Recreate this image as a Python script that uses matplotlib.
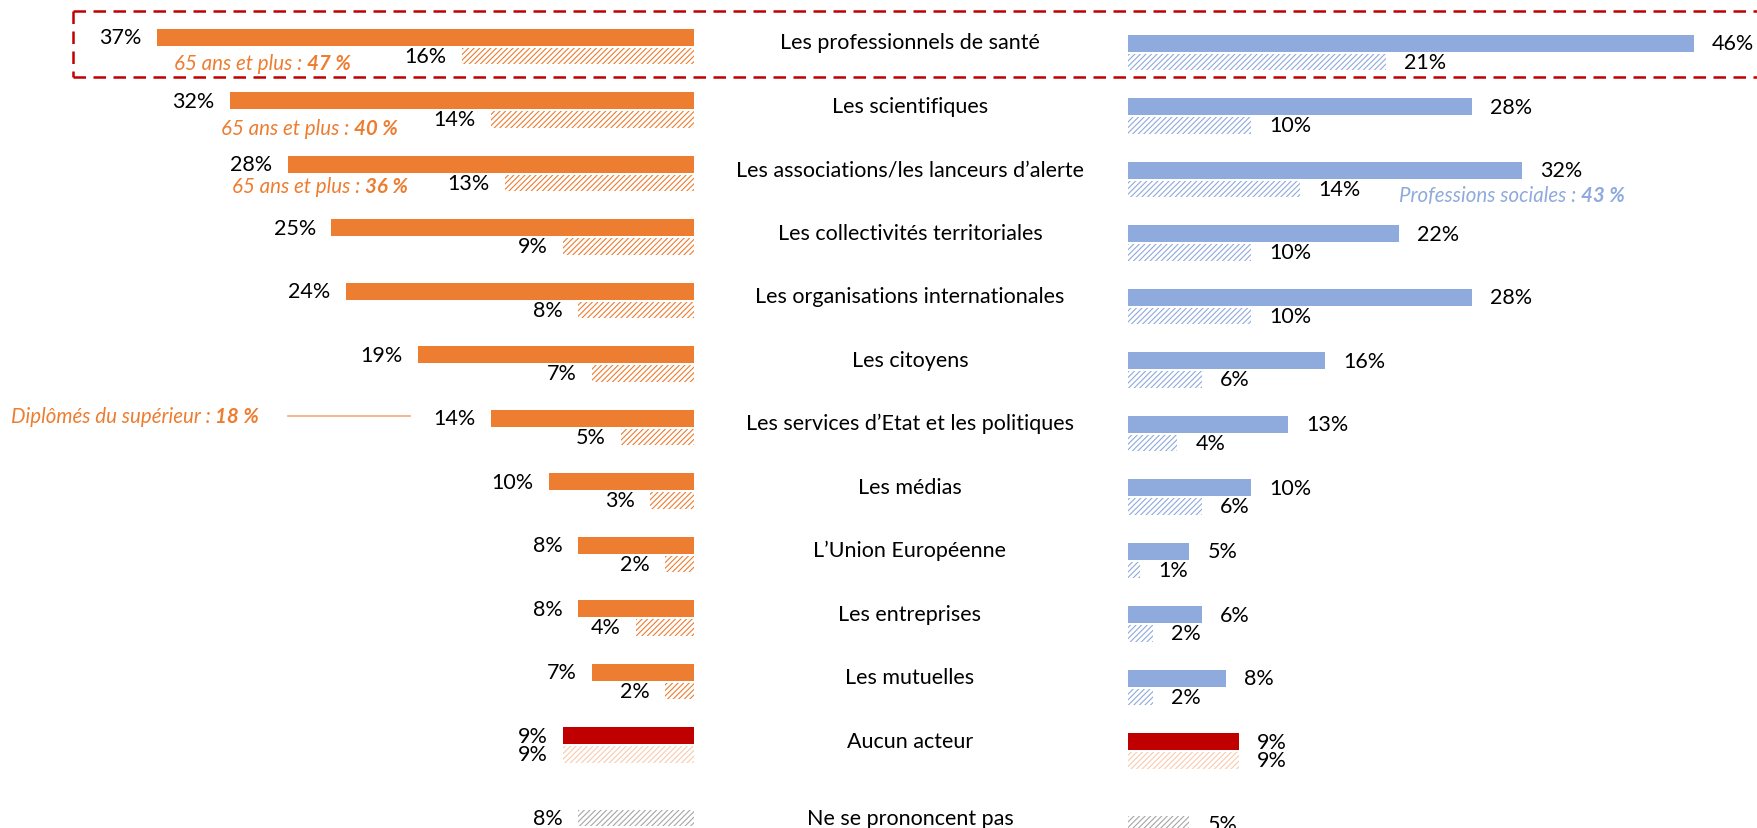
import numpy as np
import matplotlib
matplotlib.use('Agg')
import matplotlib.pyplot as plt
from matplotlib.lines import Line2D

plt.rcParams['font.family'] = ['Lato', 'DejaVu Sans']
plt.rcParams['hatch.linewidth'] = 0.8

# acteurs (one row each)
categories = ["Les professionnels de santé", "Les scientifiques",
              "Les associations/les lanceurs d\u2019alerte",
              "Les collectivités territoriales",
              "Les organisations internationales", "Les citoyens",
              "Les services d\u2019Etat et les politiques", "Les médias",
              "L\u2019Union Européenne", "Les entreprises", "Les mutuelles",
              "Aucun acteur", "Ne se prononcent pas"]

# left block (orange), right block (blue); None = no bar
left_solid = [37, 32, 28, 25, 24, 19, 14, 10, 8, 8, 7, 9, None]
left_hatch = [16, 14, 13, 9, 8, 7, 5, 3, 2, 4, 2, 9, 8]
right_solid = [46, 28, 32, 22, 28, 16, 13, 10, 5, 6, 8, 9, None]
right_hatch = [21, 10, 14, 10, 10, 6, 4, 6, 1, 2, 2, 9, 5]

ORANGE = '#ED7D31'
BLUE = '#8FAADC'
RED = '#C00000'
PALE = '#F8CBAD'
GREY = '#A6A6A6'

W, H = 1758, 829
fig = plt.figure(figsize=(W / 100, H / 100), dpi=100)

n = len(categories)
y = np.arange(n)
OFF_S, OFF_H, BH = -0.148, 0.146, 0.265
FS = 15.5


def colors_for(base):
    sc = [base] * n
    hc = [base] * n
    sc[11] = RED
    hc[11] = PALE
    hc[12] = GREY
    return sc, hc


def draw_side(ax, solid, hatch, base, side):
    sc, hc = colors_for(base)
    ys = [i for i in range(n) if solid[i] is not None]
    ax.barh([y[i] + OFF_S for i in ys], [solid[i] for i in ys], height=BH,
            color=[sc[i] for i in ys], linewidth=0)
    ax.barh(y + OFF_H, hatch, height=BH, color='white', edgecolor=hc,
            hatch='//////', linewidth=0)
    ha = 'right' if side == 'left' else 'left'
    dx = -11.3 if side == 'left' else 13
    for i in range(n):
        if solid[i] is not None:
            ax.annotate(f"{solid[i]}%", xy=(solid[i], y[i] + OFF_S),
                        xytext=(dx, 0), textcoords='offset points',
                        ha=ha, va='center', fontsize=FS, color='black')
        ax.annotate(f"{hatch[i]}%", xy=(hatch[i], y[i] + OFF_H),
                    xytext=(dx, 0), textcoords='offset points',
                    ha=ha, va='center', fontsize=FS, color='black')
    ax.axis('off')


# left block grows leftwards from x=694 px, 14.5 px per point
ax_l = fig.add_axes([0, 0, 694 / W, 1])
ax_l.set_xlim(694 / 14.5, 0)
ax_l.set_ylim((H - 47.7) / 63.5, -47.7 / 63.5)
draw_side(ax_l, left_solid, left_hatch, ORANGE, 'left')

# right block grows rightwards from x=1128 px, 12.3 px per point
ax_r = fig.add_axes([1128 / W, 0, (W - 1128) / W, 1])
ax_r.set_xlim(0, (W - 1128) / 12.3)
ax_r.set_ylim((H - 53.7) / 63.5, -53.7 / 63.5)
draw_side(ax_r, right_solid, right_hatch, BLUE, 'right')

# category names in the middle column
for i, c in enumerate(categories):
    py = 38.3 + 63.5 * i + 5 if i < n - 1 else 57 + 63.5 * i
    fig.text(910 / W, 1 - py / H, c, ha='center', va='center',
             fontsize=FS, color='black')


def two_part(x, py, normal, bold, color):
    t = fig.text(x / W, 1 - py / H, normal, ha='left', va='center',
                 fontsize=14.8, fontstyle='italic', color=color)
    fig.canvas.draw()
    bb = t.get_window_extent()
    fig.text(bb.x1 / W, 1 - py / H, bold, ha='left', va='center',
             fontsize=14.8, fontstyle='italic', fontweight='bold', color=color)


two_part(174, 64, "65 ans et plus : ", "47 %", ORANGE)
two_part(221, 129, "65 ans et plus : ", "40 %", ORANGE)
two_part(232, 187, "65 ans et plus : ", "36 %", ORANGE)
two_part(11, 417, "Diplômés du supérieur : ", "18 %", ORANGE)
two_part(1399, 196, "Professions sociales : ", "43 %", BLUE)
fig.add_artist(Line2D([288 / W, 410 / W], [1 - 417 / H, 1 - 417 / H],
                      color='#F4B183', lw=1.3))

# dashed frame around the first row, open on the right
box = dict(color=RED, lw=1.8, dashes=(5, 3))
x0, y0, y1 = 73 / W, 1 - 12 / H, 1 - 78 / H
fig.add_artist(Line2D([x0, 1.0], [y0, y0], **box))
fig.add_artist(Line2D([x0, 1.0], [y1, y1], **box))
fig.add_artist(Line2D([x0, x0], [y0, y1], **box))

fig.savefig('out.png', dpi=100)
